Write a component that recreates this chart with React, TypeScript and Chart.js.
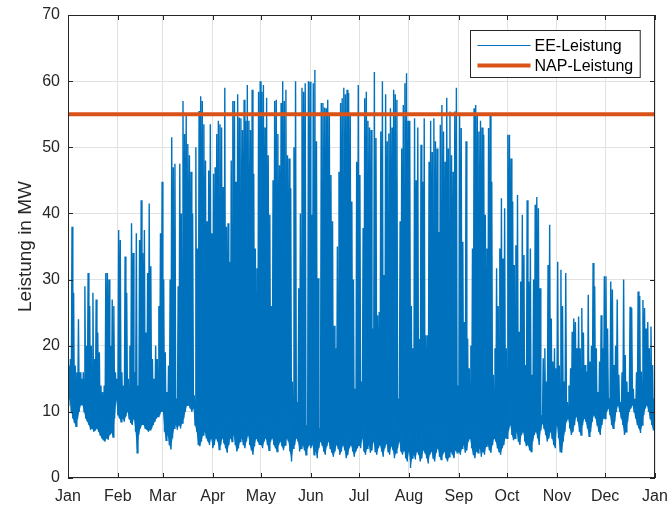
import React, { useEffect, useRef } from 'react';
import { Chart, registerables } from 'chart.js';

Chart.register(...registerables);

// Month axis
const MONTH_STARTS = [0, 31, 59, 90, 120, 151, 181, 212, 243, 273, 304, 334, 365];
const MONTH_LABELS = ['Jan', 'Feb', 'Mar', 'Apr', 'May', 'Jun', 'Jul', 'Aug', 'Sep', 'Oct', 'Nov', 'Dec', 'Jan'];

// Y axis
const Y_MIN = 0;
const Y_MAX = 70;
const Y_STEP = 10;

// NAP-Leistung (constant)
const NAP_LEVEL = 55;

// EE-Leistung: daily peak and daily low values per month (MW)
const JAN_MAX = [17, 18, 38, 28, 17, 16, 24, 16, 15, 16, 29, 20, 31, 26, 20, 28, 18, 27, 22, 19, 14, 13, 14, 31, 31, 30, 20, 27, 26, 16, 15];
const JAN_MIN = [11, 12, 10, 9, 8.3, 7.8, 9, 10, 11, 11, 10, 9, 8.5, 8, 7.3, 7.5, 7, 7.2, 7.5, 7, 6.5, 6, 5.7, 5.5, 6, 5.8, 6.5, 6.8, 6.2, 9, 11.8];
const FEB_MAX = [37.5, 36, 16, 14, 33.5, 28, 15, 20, 38.5, 34, 16, 37, 14, 36, 42, 34, 37.5, 22, 31, 41.5, 32, 18, 15, 20, 18, 26, 37, 44.8];
const FEB_MIN = [9.5, 9, 8.5, 9, 8.5, 9.3, 10, 9, 8.3, 8, 9, 7, 3.8, 6.5, 7.5, 8, 8, 7.5, 7.3, 7, 7.3, 7.5, 8, 8.5, 9, 9.3, 9.5, 10];
const MAR_MAX = [30, 19, 13, 17, 30, 51.5, 47, 47.5, 12, 29, 47.5, 40, 57, 52, 55, 50.5, 48.8, 46.3, 40, 12.5, 50, 34.7, 55.5, 57.7, 57, 53.5, 48, 38.8, 46.5, 53.5, 37];
const MAR_MIN = [10, 7, 5.7, 6.5, 5, 4.3, 6, 7.5, 8, 7.3, 8, 7.5, 8.3, 9, 10, 11, 11, 10.5, 10, 10.5, 8, 7, 5, 4.8, 5.5, 6.5, 7, 6, 5.5, 5, 6];
const APR_MAX = [46, 47, 52, 54, 53.5, 53, 44, 59, 38, 38.5, 32.7, 48, 57, 57, 44.8, 58, 54.5, 54.4, 52.6, 57.2, 54, 59.4, 54, 52.6, 58.7, 46, 34.7, 31.7, 58.4, 60];
const APR_MIN = [4.5, 5, 6, 5.5, 4.3, 5, 6, 5.2, 4.5, 3.8, 5, 6, 5.5, 6.5, 5, 4, 4.5, 5.5, 6, 5, 4.5, 5.5, 6.5, 5, 4.2, 3.5, 4.8, 6, 5.5, 5];
const MAY_MAX = [58.4, 59.4, 53, 57.5, 48.8, 39.8, 26, 45, 57, 57.2, 52, 47.3, 56.7, 60, 57, 58.7, 48.8, 48.3, 43.8, 14.6, 50, 60, 11.5, 28.7, 40, 59, 58.4, 59.7, 8, 60, 59.9];
const MAY_MIN = [5, 4.5, 5.5, 6, 5, 4.2, 5.5, 6, 5, 4.5, 4, 5, 5.5, 4.8, 4.2, 5, 6, 5.5, 4, 2.5, 4.5, 5, 6, 5.5, 4, 4.5, 5, 4.2, 3.5, 4.5, 5];
const JUN_MAX = [39.8, 59.7, 61.7, 50.9, 30.2, 7.5, 56.7, 56.7, 56, 55.9, 57.2, 55, 45.8, 38.8, 23, 19.6, 35, 46.3, 56.7, 57.4, 59, 58, 58.7, 58.2, 55, 41.8, 30, 13.5, 47.8, 59.4];
const JUN_MIN = [4.5, 5, 3.5, 4, 3, 4.5, 5.5, 5, 4, 3.5, 4.8, 5.5, 4.5, 3.8, 3.2, 4, 5, 4.5, 3.5, 4, 5, 4.2, 3, 3.5, 4.5, 5, 4, 3.2, 4, 4.5];
const JUL_MAX = [45.8, 14.6, 37.8, 57.4, 58.4, 54, 53, 52.6, 22.6, 61.4, 51.4, 24.6, 25.1, 52.4, 60, 30.7, 58, 50.9, 52.1, 55.9, 53, 58.7, 58, 57.2, 12, 38.8, 49.8, 56.4, 59.7, 61.2, 54];
const JUL_MIN = [5, 4.5, 6, 4, 3.5, 4.5, 5, 3.8, 4.2, 5.5, 4, 3.5, 4.5, 5, 4, 3.2, 4.5, 5.2, 4, 3.5, 4.8, 4.2, 3, 3.8, 4.5, 5.5, 4, 3.5, 4.2, 3, 2.5];
const AUG_MAX = [54, 26, 19.6, 54.4, 45, 53, 21, 50.4, 44.8, 54.4, 21.6, 21.6, 47.8, 54, 49.3, 54.4, 50.9, 49.8, 37.2, 53.4, 56.4, 52.4, 47.8, 57.5, 49.8, 55.4, 48.8, 46.3, 55.4, 59, 14];
const AUG_MIN = [4, 1.5, 3, 3.5, 2.8, 4, 3.5, 2.5, 3, 4.2, 3.8, 3, 2.2, 3.5, 4, 3, 2.5, 3.8, 4.5, 3.2, 2.8, 3.5, 4, 3, 2.5, 3.2, 4, 3.5, 3, 4.2, 3.8];
const SEP_MAX = [55, 52.9, 35.7, 23.6, 50.9, 21.1, 16.6, 20, 34.7, 55.9, 56.4, 55, 52.4, 54, 53, 51.9, 39.8, 34.7, 52.9, 55, 44.8, 15.6, 19.6, 31.7, 26, 34.7, 42.3, 33.2, 40.8, 19.6];
const SEP_MIN = [4, 3.5, 4.5, 5, 3.8, 4.2, 5.5, 6, 4.5, 3.5, 3, 4, 3.8, 4.5, 3.2, 4, 3.5, 4.8, 5, 4.2, 3.8, 5, 6, 5.5, 4.5, 4, 3.5, 4.5, 5, 6];
const OCT_MAX = [51.9, 51.9, 48.3, 41.8, 32.2, 35.2, 42.8, 22.1, 29.7, 39.8, 33.7, 17.1, 42, 29.7, 34.7, 15.6, 30, 41.3, 42.5, 40.8, 28.7, 9.5, 18.1, 19.6, 14.6, 32.2, 38.3, 24.1, 17.6, 19.6, 16.6];
const OCT_MIN = [6, 7.2, 8, 6.5, 5.7, 6, 7, 5.5, 5, 6.5, 7, 5.5, 4.8, 5, 4.2, 4, 5.5, 6.5, 7, 6, 5, 7.2, 8.2, 7.5, 6.5, 5.5, 6, 7, 6, 5, 4.5];
const NOV_MAX = [32.7, 17, 31.5, 26, 14.6, 31, 11.5, 14, 16.6, 22.1, 24.1, 23.6, 19.6, 24.4, 19.6, 25.7, 22, 17.1, 16.1, 27.7, 17.6, 20, 32.5, 29, 19.6, 13, 17.6, 24.6, 19.6, 30.5];
const NOV_MIN = [8, 6, 4, 3.8, 5.5, 7, 8.5, 9, 7.5, 6.5, 7, 8, 9.3, 8.5, 7, 6.5, 8, 9, 8.5, 7.5, 6.3, 7, 8.5, 9.5, 9, 8, 7, 6.5, 8, 9];
const DEC_MAX = [30.5, 22.6, 12, 29.7, 28.5, 17.1, 20, 27, 15.6, 11.5, 16, 30, 18.6, 14.6, 13, 25.9, 25.7, 13.5, 12, 16, 28.2, 27.5, 16.1, 26.9, 25.7, 22.6, 23.6, 19.6, 22.9, 17.1, 12];
const DEC_MIN = [9, 10, 10.5, 9.5, 8, 7.5, 8.5, 10, 11, 10, 9, 8, 6.5, 7, 8.5, 10, 10.5, 11, 10, 9, 8, 7.5, 6.8, 8, 9.5, 10.5, 11, 10, 9, 8, 7.2];
const END_VALUE = 9.5;

const DAILY_MAX = [
  ...JAN_MAX, ...FEB_MAX, ...MAR_MAX, ...APR_MAX, ...MAY_MAX, ...JUN_MAX,
  ...JUL_MAX, ...AUG_MAX, ...SEP_MAX, ...OCT_MAX, ...NOV_MAX, ...DEC_MAX,
];
const DAILY_MIN = [
  ...JAN_MIN, ...FEB_MIN, ...MAR_MIN, ...APR_MIN, ...MAY_MIN, ...JUN_MIN,
  ...JUL_MIN, ...AUG_MIN, ...SEP_MIN, ...OCT_MIN, ...NOV_MIN, ...DEC_MIN,
];

const FONT = '"Liberation Sans", Arial, Helvetica, sans-serif';
const TEXT_COLOR = '#262626';
const EE_COLOR = '#0072BD';
const NAP_COLOR = '#D95319';

const boxPlugin = {
  id: 'matlabBox',
  afterDatasetsDraw(chart: any) {
    const { ctx, chartArea, scales } = chart;
    const { left, right, top, bottom } = chartArea;
    ctx.save();
    ctx.strokeStyle = TEXT_COLOR;
    ctx.lineWidth = 1;
    ctx.beginPath();
    const tl = 5;
    scales.x.ticks.forEach((t: any) => {
      const px = Math.round(scales.x.getPixelForValue(t.value)) + 0.5;
      ctx.moveTo(px, bottom);
      ctx.lineTo(px, bottom - tl);
      ctx.moveTo(px, top);
      ctx.lineTo(px, top + tl);
    });
    scales.y.ticks.forEach((t: any) => {
      const py = Math.round(scales.y.getPixelForValue(t.value)) + 0.5;
      ctx.moveTo(left, py);
      ctx.lineTo(left + tl, py);
      ctx.moveTo(right, py);
      ctx.lineTo(right - tl, py);
    });
    ctx.stroke();
    ctx.strokeRect(Math.round(left) + 0.5, Math.round(top) + 0.5, Math.round(right - left) - 1, Math.round(bottom - top) - 1);
    ctx.restore();
  },
  afterDraw(chart: any) {
    const { ctx, chartArea } = chart;
    const datasets = chart.data.datasets.filter((d: any) => d.label);
    ctx.save();
    ctx.font = `16px ${FONT}`;
    const sample = 53;
    const pad = 7;
    const gap = 4;
    const rowH = 20;
    const textW = Math.max(...datasets.map((d: any) => ctx.measureText(d.label).width));
    const w = pad + sample + gap + textW + pad;
    const h = 15 + rowH + 12;
    const x0 = Math.round(chartArea.right - 15 - w) + 0.5;
    const y0 = Math.round(chartArea.top + 15) + 0.5;
    ctx.fillStyle = '#ffffff';
    ctx.fillRect(x0, y0, w, h);
    ctx.strokeStyle = TEXT_COLOR;
    ctx.lineWidth = 1;
    ctx.strokeRect(x0, y0, w, h);
    datasets.forEach((d: any, i: number) => {
      const cy = y0 + 15 + i * rowH;
      ctx.strokeStyle = d.borderColor;
      ctx.lineWidth = d.borderWidth >= 2 ? d.borderWidth : 1;
      ctx.beginPath();
      ctx.moveTo(x0 + pad, cy);
      ctx.lineTo(x0 + pad + sample, cy);
      ctx.stroke();
      ctx.fillStyle = '#000000';
      ctx.textBaseline = 'middle';
      ctx.textAlign = 'left';
      ctx.fillText(d.label, x0 + pad + sample + gap, cy + 1);
    });
    ctx.restore();
  },
};

export default function App() {
  const canvasRef = useRef<HTMLCanvasElement | null>(null);

  useEffect(() => {
    const canvas = canvasRef.current;
    if (!canvas) return;

    const eePoints: { x: number; y: number }[] = [];
    const lowPoints: { x: number; y: number }[] = [];
    DAILY_MAX.forEach((mx, i) => {
      eePoints.push({ x: i, y: DAILY_MIN[i] });
      eePoints.push({ x: i + 0.5, y: mx });
      lowPoints.push({ x: i, y: DAILY_MIN[i] });
    });
    eePoints.push({ x: 365, y: END_VALUE });
    lowPoints.push({ x: 365, y: END_VALUE });

    const napPoints = [
      { x: MONTH_STARTS[0], y: NAP_LEVEL },
      { x: MONTH_STARTS[MONTH_STARTS.length - 1], y: NAP_LEVEL },
    ];

    const chart = new Chart(canvas, {
      type: 'line',
      data: {
        datasets: [
          {
            label: 'EE-Leistung',
            data: eePoints,
            borderColor: EE_COLOR,
            backgroundColor: EE_COLOR,
            borderWidth: 1.4,
            pointRadius: 0,
            tension: 0,
            fill: 2,
            order: 1,
          },
          {
            label: 'NAP-Leistung',
            data: napPoints,
            borderColor: NAP_COLOR,
            borderWidth: 4,
            pointRadius: 0,
            tension: 0,
            fill: false,
            order: 0,
          },
          {
            label: '',
            data: lowPoints,
            borderColor: 'rgba(0,0,0,0)',
            borderWidth: 0,
            pointRadius: 0,
            tension: 0,
            fill: false,
            order: 2,
          },
        ],
      },
      options: {
        animation: false,
        responsive: false,
        events: [],
        layout: { padding: { left: 0, top: 15, right: 17, bottom: 0 } },
        plugins: {
          legend: { display: false },
          tooltip: { enabled: false },
        },
        scales: {
          x: {
            type: 'linear',
            min: MONTH_STARTS[0],
            max: MONTH_STARTS[MONTH_STARTS.length - 1],
            afterBuildTicks: (s: any) => {
              s.ticks = MONTH_STARTS.map((v) => ({ value: v }));
            },
            afterFit: (s: any) => {
              s.height = 29;
              s.paddingLeft = 0;
              s.paddingRight = 0;
            },
            ticks: {
              autoSkip: false,
              maxRotation: 0,
              padding: 9,
              color: TEXT_COLOR,
              font: { family: FONT, size: 16 },
              callback: (v: any) => {
                const idx = MONTH_STARTS.indexOf(Number(v));
                return idx >= 0 ? MONTH_LABELS[idx] : '';
              },
            },
            grid: { color: '#e2e2e2', drawTicks: false },
            border: { display: false },
          },
          y: {
            min: Y_MIN,
            max: Y_MAX,
            afterFit: (s: any) => {
              s.width = 68;
              s.paddingTop = 0;
              s.paddingBottom = 0;
            },
            ticks: {
              stepSize: Y_STEP,
              padding: 8,
              color: TEXT_COLOR,
              font: { family: FONT, size: 16 },
            },
            grid: { color: '#e2e2e2', drawTicks: false },
            border: { display: false },
            title: {
              display: true,
              text: 'Leistung in MW',
              color: TEXT_COLOR,
              font: { family: FONT, size: 19 },
              padding: { top: 14, bottom: 0 },
            },
          },
        },
      },
      plugins: [boxPlugin],
    } as any);

    return () => chart.destroy();
  }, []);

  return (
    <div style={{ position: 'absolute', left: 0, top: 0, width: 672, height: 507, background: '#ffffff' }}>
      <canvas ref={canvasRef} width={672} height={507} style={{ display: 'block' }} />
    </div>
  );
}
